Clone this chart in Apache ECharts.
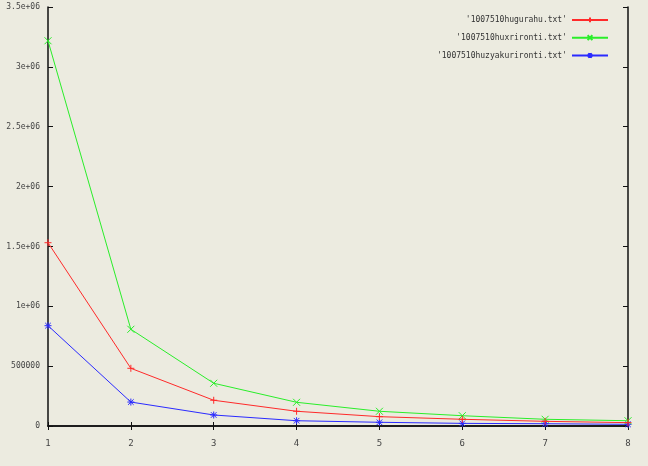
<!DOCTYPE html>
<html><head><meta charset="utf-8">
<script src="https://cdn.jsdelivr.net/npm/echarts@6/dist/echarts.min.js"></script>
<style>html,body{margin:0;padding:0;background:#ecebe0;}#c{width:648px;height:466px;}</style>
</head><body><div id="c"></div>
<script>
var xValues = [1, 2, 3, 4, 5, 6, 7, 8];
var seriesNames = ["'1007510hugurahu.txt'", "'1007510huxrironti.txt'", "'1007510huzyakurironti.txt'"];
var hugurahu = [1531000, 482000, 215000, 123000, 78000, 56000, 39000, 28000];
var huxrironti = [3218000, 808000, 357000, 198000, 123000, 86000, 56000, 44000];
var huzyakurironti = [838000, 200000, 92000, 44000, 31000, 22000, 19000, 14000];
var yTicks = [0, 500000, 1000000, 1500000, 2000000, 2500000, 3000000, 3500000];
var yTickLabels = ['0', '500000', '1e+06', '1.5e+06', '2e+06', '2.5e+06', '3e+06', '3.5e+06'];
var seriesColors = ['#ff2a2a', '#2aee2a', '#2a2aff'];
var seriesSymbols = [
  'path://M0,-5L0,5M-5,0L5,0',
  'path://M-5,-5L5,5M-5,5L5,-5',
  'path://M0,-5L0,5M-5,0L5,0M-4,-4L4,4M-4,4L4,-4'
];
var allData = [hugurahu, huxrironti, huzyakurironti];

var font = 'DejaVu Sans Mono';
var chart = echarts.init(document.getElementById('c'), null, {renderer: 'canvas'});
function pairs(arr) { return arr.map(function (v, i) { return [xValues[i], v]; }); }
var axisLine = {show: true, lineStyle: {color: '#111', width: 1.5}};
var option = {
  backgroundColor: '#ecebe0',
  animation: false,
  grid: {left: 48, right: 20, top: 7, bottom: 40, containLabel: false},
  legend: {
    orient: 'vertical', right: 34, top: 10, align: 'right',
    itemWidth: 36, itemHeight: 6, itemGap: 8,
    textStyle: {fontFamily: font, fontSize: 8, color: '#333'},
    data: seriesNames
  },
  xAxis: [{
    type: 'value', min: 1, max: 8, interval: 1, position: 'bottom',
    axisLine: axisLine, splitLine: {show: false},
    axisTick: {show: true, inside: true, length: 4, lineStyle: {color: '#111'}},
    axisLabel: {margin: 13, fontFamily: font, fontSize: 9, color: '#444'}
  }, {
    type: 'value', min: 1, max: 8, interval: 1, position: 'top',
    axisLine: axisLine, splitLine: {show: false},
    axisTick: {show: true, inside: true, length: 4, lineStyle: {color: '#111'}},
    axisLabel: {show: false}
  }],
  yAxis: [{
    type: 'value', min: 0, max: 3500000, interval: 500000, position: 'left',
    axisLine: axisLine, splitLine: {show: false},
    axisTick: {show: true, inside: true, length: 5, lineStyle: {color: '#111'}},
    axisLabel: {margin: 8, fontFamily: font, fontSize: 8, color: '#444',
      formatter: function (v) { var i = yTicks.indexOf(v); return i >= 0 ? yTickLabels[i] : ''; }}
  }, {
    type: 'value', min: 0, max: 3500000, interval: 500000, position: 'right',
    axisLine: axisLine, splitLine: {show: false},
    axisTick: {show: true, inside: true, length: 5, lineStyle: {color: '#111'}},
    axisLabel: {show: false}
  }],
  series: allData.map(function (d, k) {
    return {
      name: seriesNames[k], type: 'line', data: pairs(d),
      xAxisIndex: 0, yAxisIndex: 0,
      symbol: seriesSymbols[k], symbolSize: 7, showSymbol: true,
      lineStyle: {color: seriesColors[k], width: 1},
      itemStyle: {color: 'none', borderColor: seriesColors[k], borderWidth: 1},
      z: 3 - k
    };
  })
};
chart.setOption(option);
</script></body></html>
